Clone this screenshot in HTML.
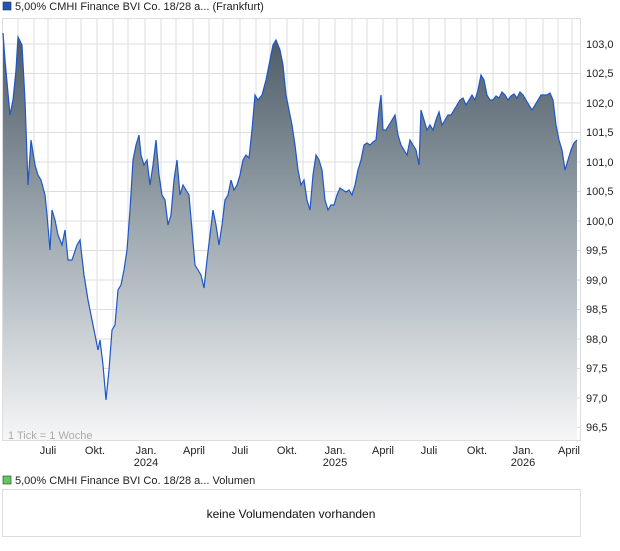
<!DOCTYPE html>
<html><head><meta charset="utf-8"><style>
body{margin:0;background:#fff;width:620px;height:546px;overflow:hidden;font-family:"Liberation Sans",sans-serif}
</style></head><body>
<svg width="620" height="546" xmlns="http://www.w3.org/2000/svg" font-family="Liberation Sans, sans-serif" font-size="11">
<defs><linearGradient id="g" x1="0" y1="40" x2="0" y2="441" gradientUnits="userSpaceOnUse">
<stop offset="0" stop-color="#4e5d69"/><stop offset="0.5" stop-color="#a3adb4"/><stop offset="1" stop-color="#f6f7f8"/></linearGradient></defs>
<rect x="3" y="2" width="8" height="8" fill="#1f56b8" stroke="#333" stroke-width="0.6"/>
<text x="15" y="10" fill="#222">5,00% CMHI Finance BVI Co. 18/28 a... (Frankfurt)</text>
<rect x="2.5" y="18.5" width="578" height="422" fill="#fff" stroke="#ddd"/>
<g stroke="#ddd" stroke-width="1">
<path d="M18 19V440M34 19V440M48 19V440M66 19V440M81 19V440M97 19V440M113 19V440M128 19V440M145 19V440M161 19V440M176 19V440M193 19V440M209 19V440M223 19V440M240 19V440M256 19V440M270 19V440M287 19V440M303 19V440M319 19V440M335 19V440M352 19V440M367 19V440M383 19V440M397 19V440M413 19V440M429 19V440M445 19V440M461 19V440M477 19V440M493 19V440M509 19V440M526 19V440M543 19V440M558 19V440M572 19V440"/>
<path d="M3 44H580M3 73.5H580M3 103H580M3 132.5H580M3 162H580M3 191.5H580M3 221H580M3 250.5H580M3 280H580M3 309.5H580M3 339H580M3 368.5H580M3 398H580M3 427.5H580"/>
</g>
<path id="d" d="M3 33L5 60L10 115L13 100L16 70L18 37L22 45L25 100L28 185L31 140L35 165L38 175L41 180L45 195L47 215L50 250L52 210L55 220L58 235L62 245L65 230L68 260L72 260L77 245L80 240L84 275L88 300L92 320L95 335L98 350L100 340L103 365L106 400L109 370L112 330L115 325L118 290L121 285L124 270L127 250L130 210L133 160L136 145L139 135L141 155L144 165L147 160L150 185L153 165L156 140L159 175L162 195L165 200L168 225L171 215L174 180L177 160L180 195L183 185L186 190L189 195L192 230L195 265L198 270L201 275L204 288L207 260L210 235L213 210L216 225L219 245L222 225L225 200L228 195L231 180L234 190L237 185L240 175L243 160L246 155L249 158L252 130L255 95L258 100L262 95L266 80L270 60L273 45L276 40L280 50L283 65L286 95L289 110L292 125L295 145L298 170L301 185L304 180L307 200L310 210L313 175L316 155L319 160L322 170L325 200L328 210L331 205L334 205L337 195L340 188L343 190L346 192L349 190L352 195L355 185L358 170L361 160L364 145L367 143L370 145L373 142L376 140L379 110L381 95L383 130L386 130L389 125L392 120L395 115L398 135L401 145L404 150L407 155L410 140L413 145L416 150L419 165L421 110L424 120L427 130L430 125L433 130L436 120L439 112L442 125L445 120L448 115L451 115L454 110L457 105L460 100L463 98L466 105L469 100L472 95L475 100L478 90L481 75L484 80L487 95L490 100L493 100L496 96L499 98L502 92L505 95L508 100L511 96L514 94L517 98L520 92L523 95L526 100L529 105L532 110L535 105L538 100L541 95L544 95L547 95L550 93L553 100L556 125L559 140L562 150L565 170L568 160L571 150L574 143L577 140" fill="none"/>
<path d="M3 33L5 60L10 115L13 100L16 70L18 37L22 45L25 100L28 185L31 140L35 165L38 175L41 180L45 195L47 215L50 250L52 210L55 220L58 235L62 245L65 230L68 260L72 260L77 245L80 240L84 275L88 300L92 320L95 335L98 350L100 340L103 365L106 400L109 370L112 330L115 325L118 290L121 285L124 270L127 250L130 210L133 160L136 145L139 135L141 155L144 165L147 160L150 185L153 165L156 140L159 175L162 195L165 200L168 225L171 215L174 180L177 160L180 195L183 185L186 190L189 195L192 230L195 265L198 270L201 275L204 288L207 260L210 235L213 210L216 225L219 245L222 225L225 200L228 195L231 180L234 190L237 185L240 175L243 160L246 155L249 158L252 130L255 95L258 100L262 95L266 80L270 60L273 45L276 40L280 50L283 65L286 95L289 110L292 125L295 145L298 170L301 185L304 180L307 200L310 210L313 175L316 155L319 160L322 170L325 200L328 210L331 205L334 205L337 195L340 188L343 190L346 192L349 190L352 195L355 185L358 170L361 160L364 145L367 143L370 145L373 142L376 140L379 110L381 95L383 130L386 130L389 125L392 120L395 115L398 135L401 145L404 150L407 155L410 140L413 145L416 150L419 165L421 110L424 120L427 130L430 125L433 130L436 120L439 112L442 125L445 120L448 115L451 115L454 110L457 105L460 100L463 98L466 105L469 100L472 95L475 100L478 90L481 75L484 80L487 95L490 100L493 100L496 96L499 98L502 92L505 95L508 100L511 96L514 94L517 98L520 92L523 95L526 100L529 105L532 110L535 105L538 100L541 95L544 95L547 95L550 93L553 100L556 125L559 140L562 150L565 170L568 160L571 150L574 143L577 140L577 440L3 440Z" fill="url(#g)"/>
<use href="#d" stroke="#1f56c8" stroke-width="1.2"/>
<text x="8" y="439" fill="#aaa">1 Tick = 1 Woche</text>
<g fill="#222" text-anchor="start">
<text x="586" y="48">103,0</text><text x="586" y="77">102,5</text><text x="586" y="107">102,0</text><text x="586" y="136">101,5</text><text x="586" y="166">101,0</text><text x="586" y="195">100,5</text><text x="586" y="225">100,0</text><text x="586" y="254">99,5</text><text x="586" y="284">99,0</text><text x="586" y="313">98,5</text><text x="586" y="343">98,0</text><text x="586" y="372">97,5</text><text x="586" y="402">97,0</text><text x="586" y="431">96,5</text>
</g>
<g fill="#222" text-anchor="middle">
<text x="48" y="454">Juli</text><text x="95" y="454">Okt.</text><text x="146" y="454">Jan.</text><text x="146" y="466">2024</text><text x="194" y="454">April</text><text x="240" y="454">Juli</text><text x="287" y="454">Okt.</text><text x="335" y="454">Jan.</text><text x="335" y="466">2025</text><text x="383" y="454">April</text><text x="429" y="454">Juli</text><text x="477" y="454">Okt.</text><text x="523" y="454">Jan.</text><text x="523" y="466">2026</text><text x="569" y="454">April</text>
</g>
<rect x="3" y="476" width="8" height="8" fill="#5ec95e" stroke="#333" stroke-width="0.6"/>
<text x="15" y="484" fill="#222">5,00% CMHI Finance BVI Co. 18/28 a... Volumen</text>
<rect x="2.5" y="489.5" width="578" height="47" fill="#fff" stroke="#ddd"/>
<text x="291" y="518" text-anchor="middle" font-size="12" fill="#111">keine Volumendaten vorhanden</text>
</svg>
</body></html>
